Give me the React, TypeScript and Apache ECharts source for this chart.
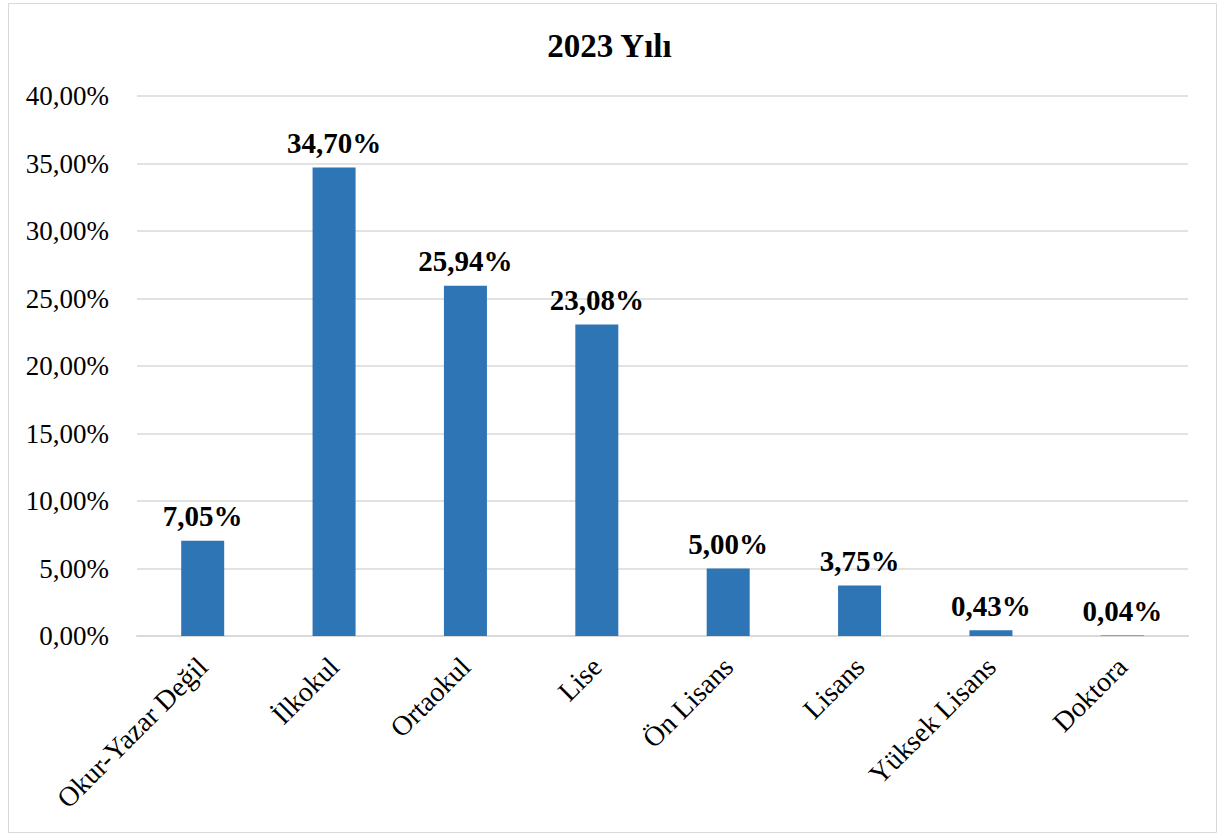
import React, { useEffect, useRef } from "react";
import * as echarts from "echarts";

const categories = ["Okur-Yazar Değil", "İlkokul", "Ortaokul", "Lise", "Ön Lisans", "Lisans", "Yüksek Lisans", "Doktora"];
const values = [7.05, 34.7, 25.94, 23.08, 5.0, 3.75, 0.43, 0.04];
const titleText = "2023 Yılı";

const fmt = (v: number) => v.toFixed(2).replace(".", ",") + "%";
const FONT = "'Liberation Serif', 'Times New Roman', serif";

export default function App() {
  const ref = useRef<HTMLDivElement>(null);
  useEffect(() => {
    const chart = echarts.init(ref.current!, null, { renderer: "svg" });
    chart.setOption({
      animation: false,
      backgroundColor: "#fff",
      title: {
        text: titleText,
        left: "center",
        top: 24,
        textStyle: { fontFamily: FONT, fontWeight: "bold", fontSize: 33, color: "#000" },
      },
      graphic: [
        {
          type: "rect",
          shape: { x: 8.5, y: 3.5, width: 1208, height: 829 },
          style: { fill: "none", stroke: "#d9d9d9", lineWidth: 1 },
          silent: true,
        },
      ],
      grid: { left: 137, right: 31, top: 96, bottom: 199 },
      xAxis: {
        type: "category",
        data: categories,
        axisLine: { show: true, lineStyle: { color: "#d9d9d9", width: 2 } },
        axisTick: { show: false },
        axisLabel: {
          rotate: 45,
          interval: 0,
          margin: 26,
          fontFamily: FONT,
          fontSize: 28,
          color: "#000",
        },
      },
      yAxis: {
        type: "value",
        min: 0,
        max: 40,
        interval: 5,
        axisLine: { show: false },
        axisTick: { show: false },
        splitLine: { lineStyle: { color: "#d9d9d9", width: 1.5 } },
        axisLabel: {
          formatter: (v: number) => fmt(v),
          fontFamily: FONT,
          fontSize: 27,
          color: "#000",
          margin: 28,
        },
      },
      series: [
        {
          type: "bar",
          data: values,
          barWidth: 43,
          itemStyle: { color: "#2E75B6" },
          label: {
            show: true,
            position: "top",
            distance: 10,
            formatter: (p: any) => fmt(p.value),
            fontFamily: FONT,
            fontWeight: "bold",
            fontSize: 29,
            color: "#000",
          },
        },
      ],
    });
    return () => chart.dispose();
  }, []);
  return <div ref={ref} style={{ position: "absolute", left: 0, top: 0, width: 1219, height: 835 }} />;
}
